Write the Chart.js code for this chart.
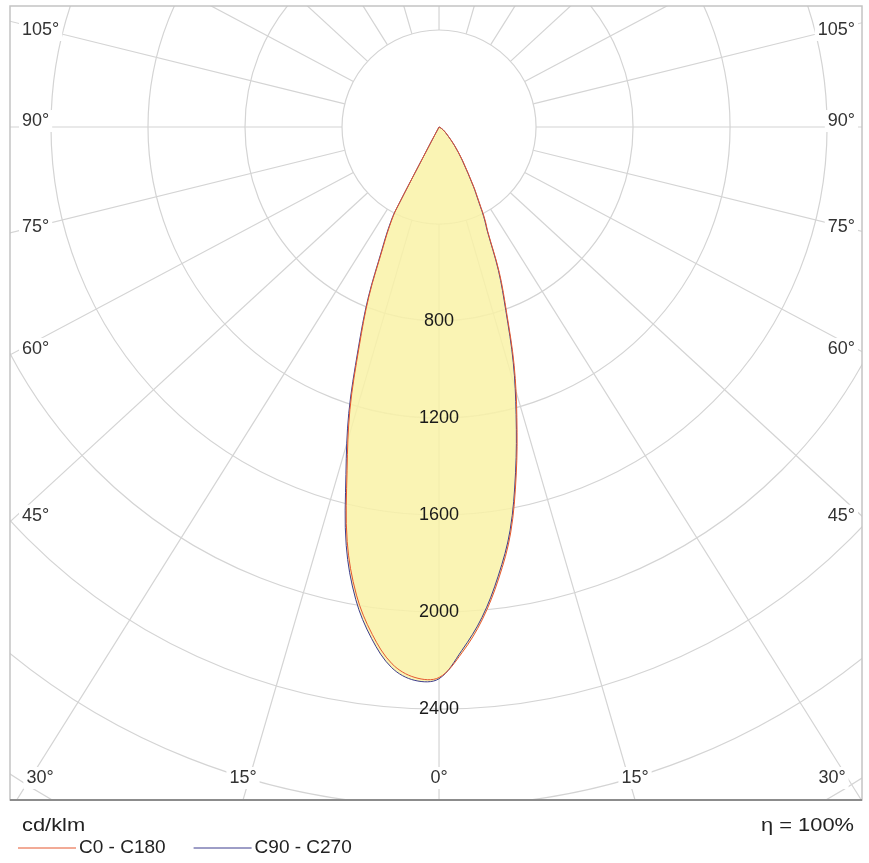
<!DOCTYPE html>
<html lang="en">
<head>
  <meta charset="UTF-8">
  <title>Polar intensity diagram</title>
  <style>
    html, body { margin: 0; padding: 0; background: #fff; overflow: hidden; }
    .chart-container { width: 869px; height: 863px; }
  </style>
</head>
<body>
  <div class="chart-container">
    <canvas id="myChart" width="869" height="863"></canvas>
  </div>

  <script src="https://cdn.jsdelivr.net/npm/chart.js"></script>
  <script>
    // Gamma angles (degrees from nadir) and luminous intensity in cd/klm.
    const GAMMA = [0, 2.5, 5, 7.5, 10, 12.5, 15, 17.5, 20, 22.5, 25, 26, 27, 27.5, 28, 29, 30, 35, 40, 45, 50, 55, 60, 70, 80, 90];
    const C0   = [2270, 2170, 2040, 1880, 1700, 1470, 1240, 1030, 815, 650, 475, 440, 400, 375, 355, 320, 290, 170, 100, 55, 35, 22, 12, 3, 0, 0];
    const C180 = [2270, 2272, 2222, 2110, 1960, 1750, 1465, 1222, 962, 755, 545, 488, 428, 385, 60, 0, 0, 0, 0, 0, 0, 0, 0, 0, 0, 0];
    const C90  = [2275, 2160, 2030, 1868, 1688, 1458, 1228, 1018, 805, 640, 468, 432, 392, 368, 348, 314, 285, 166, 98, 54, 34, 21, 11, 3, 0, 0];
    const C270 = [2275, 2284, 2238, 2128, 1978, 1768, 1483, 1238, 975, 765, 555, 498, 438, 395, 70, 0, 0, 0, 0, 0, 0, 0, 0, 0, 0, 0];

    const RINGS = [400, 800, 1200, 1600, 2000, 2400, 2800, 3200, 3600];
    const RING_LABELS = [800, 1200, 1600, 2000, 2400];
    const ANGLE_STEP = 15;
    const UNIT = 'cd/klm';
    const EFFICIENCY = 'η = 100%';

    const GRID_COLOR = '#d4d4d4';
    const FILL_COLOR = 'rgba(249,242,167,0.85)';
    const FONT = '"Liberation Sans", Arial, sans-serif';
    // The radial lines of the original are drawn a little flattened vertically.
    const K = 0.92;

    /**
     * Build a closed outline: left half-plane from 90° down to 0°, then right half-plane back up.
     */
    function planePoints(left, right) {
      const pts = [];
      for (let i = GAMMA.length - 1; i >= 0; i--) {
        const g = GAMMA[i] * Math.PI / 180;
        pts.push({x: -left[i] * Math.sin(g), y: -left[i] * Math.cos(g)});
      }
      for (let i = 1; i < GAMMA.length; i++) {
        const g = GAMMA[i] * Math.PI / 180;
        pts.push({x: right[i] * Math.sin(g), y: -right[i] * Math.cos(g)});
      }
      return pts;
    }

    function rayDir(deg) {
      const g = deg * Math.PI / 180;
      const dx = Math.sin(g), dy = K * Math.cos(g);
      const n = Math.hypot(dx, dy);
      return {x: dx / n, y: dy / n};
    }

    function labelBox(ctx, text, x, y, align) {
      const w = ctx.measureText(text).width;
      const left = align === 'left' ? x : align === 'right' ? x - w : x - w / 2;
      ctx.fillStyle = '#fff';
      ctx.fillRect(left - 3, y - 11, w + 6, 22);
      ctx.fillStyle = '#333';
      ctx.textAlign = align;
      ctx.fillText(text, x, y);
    }

    // Text drawn slightly stretched horizontally, like the original footer.
    function wideText(ctx, text, x, y, align, sx) {
      ctx.save();
      ctx.translate(x, y);
      ctx.scale(sx, 1);
      ctx.textAlign = align;
      ctx.fillText(text, 0, 0);
      ctx.restore();
    }

    const polarGrid = {
      id: 'polarGrid',
      beforeDatasetsDraw(chart) {
        const {ctx, chartArea: a, scales: {x, y}} = chart;
        const cx = x.getPixelForValue(0), cy = y.getPixelForValue(0);
        const radius = v => x.getPixelForValue(v) - cx;

        ctx.save();
        ctx.beginPath();
        ctx.rect(a.left, a.top, a.right - a.left, a.bottom - a.top);
        ctx.clip();

        // Rings and radial lines.
        ctx.strokeStyle = GRID_COLOR;
        ctx.lineWidth = 1.2;
        RINGS.forEach(r => {
          ctx.beginPath();
          ctx.arc(cx, cy, radius(r), 0, 2 * Math.PI);
          ctx.stroke();
        });
        const r0 = radius(RINGS[0]);
        for (let g = 0; g < 360; g += ANGLE_STEP) {
          const d = rayDir(g);
          ctx.beginPath();
          ctx.moveTo(cx + d.x * r0, cy + d.y * r0);
          ctx.lineTo(cx + d.x * 3000, cy + d.y * 3000);
          ctx.stroke();
        }

        // Angle labels where the radial lines meet the frame (side labels kept symmetric).
        ctx.font = `18px ${FONT}`;
        ctx.textBaseline = 'middle';
        const half = cx - a.left;
        for (let g = 0; g <= 180; g += ANGLE_STEP) {
          for (const s of (g === 0 || g === 180 ? [1] : [-1, 1])) {
            const d = rayDir(g);
            const dx = Math.abs(d.x), dy = d.y;
            const tSide = dx === 0 ? Infinity : half / dx;
            const tBottom = dy > 0 ? (a.bottom - cy) / dy : Infinity;
            const tTop = dy < 0 ? (cy - a.top) / -dy : Infinity;
            const text = `${g}°`;
            if (tBottom < tSide) {
              const lx = Math.min(Math.max(cx + s * d.x * tBottom, a.left + 30), a.right - 30);
              labelBox(ctx, text, lx, a.bottom - 22, 'center');
            } else if (tSide < tTop) {
              const hy = cy + dy * tSide - 6 * Math.sign(dy);
              const ly = Math.max(hy, a.top + 24);
              if (s < 0) labelBox(ctx, text, a.left + 12, ly, 'left');
              else labelBox(ctx, text, a.right - 7, ly, 'right');
            }
          }
        }

        // Fill the union of both curves, following the library's smoothed line paths.
        ctx.beginPath();
        chart.data.datasets.forEach((ds, i) => {
          const line = chart.getDatasetMeta(i).dataset;
          line.updateControlPoints(a, 'x');
          line.path(ctx);
          ctx.closePath();
        });
        ctx.fillStyle = FILL_COLOR;
        ctx.fill('nonzero');
        ctx.restore();
      },
      afterDatasetsDraw(chart) {
        const {ctx, scales: {x, y}} = chart;
        const cx = x.getPixelForValue(0);
        ctx.save();
        ctx.font = `18px ${FONT}`;
        ctx.fillStyle = '#1a1a1a';
        ctx.textAlign = 'center';
        ctx.textBaseline = 'middle';
        RING_LABELS.forEach(v => ctx.fillText(String(v), cx, y.getPixelForValue(-v)));
        ctx.restore();
      },
      afterDraw(chart) {
        const {ctx, chartArea: a} = chart;
        ctx.save();
        // Frame.
        ctx.strokeStyle = '#c4c4c4';
        ctx.lineWidth = 1.5;
        ctx.strokeRect(a.left, a.top, a.right - a.left, a.bottom - a.top);
        ctx.strokeStyle = '#8c8c8c';
        ctx.lineWidth = 2;
        ctx.beginPath();
        ctx.moveTo(a.left, a.bottom);
        ctx.lineTo(a.right, a.bottom);
        ctx.stroke();

        // Unit and efficiency.
        ctx.fillStyle = '#222';
        ctx.textBaseline = 'middle';
        ctx.font = `19px ${FONT}`;
        wideText(ctx, UNIT, a.left + 12, a.bottom + 26, 'left', 1.15);
        wideText(ctx, EFFICIENCY, a.right - 8, a.bottom + 26, 'right', 1.15);

        // Legend.
        let lx = a.left + 8;
        const ly = a.bottom + 48;
        ctx.textAlign = 'left';
        ctx.font = `19px ${FONT}`;
        chart.data.datasets.forEach(ds => {
          ctx.strokeStyle = ds.borderColor;
          ctx.lineWidth = 1;
          ctx.beginPath();
          ctx.moveTo(lx, ly);
          ctx.lineTo(lx + 58, ly);
          ctx.stroke();
          ctx.fillStyle = '#222';
          ctx.fillText(ds.label, lx + 61, ly);
          lx += 61 + ctx.measureText(ds.label).width + 28;
        });
        ctx.restore();
      }
    };

    function drawChart() {
      const myChart = document.querySelector('#myChart');
      const config = {
        type: 'scatter',
        data: {
          datasets: [
            {
              label: 'C0 - C180',
              data: planePoints(C180, C0),
              borderColor: '#e5572f',
              borderWidth: 1,
              showLine: true
            },
            {
              label: 'C90 - C270',
              data: planePoints(C270, C90),
              borderColor: '#3c3c8e',
              borderWidth: 1,
              showLine: true
            }
          ]
        },
        options: {
          responsive: false,
          maintainAspectRatio: false,
          animation: false,
          layout: {padding: {left: 10, right: 7, top: 6, bottom: 63}},
          elements: {point: {radius: 0, hoverRadius: 0}, line: {tension: 0.35}},
          plugins: {legend: {display: false}, tooltip: {enabled: false}},
          scales: {
            x: {type: 'linear', min: -1769, max: 1744, display: false},
            y: {type: 'linear', min: -2775, max: 499, display: false}
          }
        },
        plugins: [polarGrid]
      };
      return new Chart(myChart, config);
    }

    const chart = drawChart();
    window.chart = chart;
  </script>
</body>
</html>
